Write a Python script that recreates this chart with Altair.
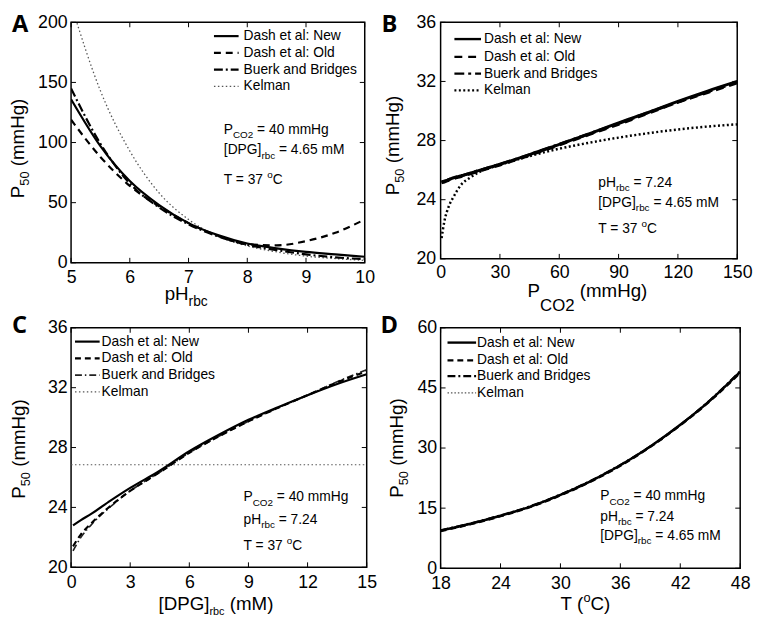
import altair as alt
import pandas as pd

FONT = "Liberation Sans"
LETTER_FONT = "Open Sans"
MODELS = ["Dash et al: New", "Dash et al: Old", "Buerk and Bridges", "Kelman"]

# ---------------- Panel A : P50 vs pH_rbc ----------------
a_x = [5.0, 5.5, 6.0, 6.5, 7.0, 7.5, 8.0, 8.5, 9.0, 9.5, 10.0]
a_new = [136, 97, 68, 48, 33, 23, 16, 12, 9, 7, 5]
a_old = [119, 88, 64, 47, 33, 22.5, 15.5, 14.5, 18, 25, 36]
a_buerk = [145, 99, 66, 46, 32, 22, 15, 10.5, 7, 4.5, 3]
a_kelman = [215, 143, 93, 58, 36, 22, 14, 9, 5.5, 3.5, 2]
a_xticks = [5, 6, 7, 8, 9, 10]
a_yticks = [0, 50, 100, 150, 200]

# ---------------- Panel B : P50 vs PCO2 ----------------
b_x = [0.5, 2, 4, 7, 10, 15, 20, 30, 45, 60, 75, 90, 105, 120, 135, 150]
b_new = [25.2, 25.25, 25.35, 25.5, 25.6, 25.8, 26.0, 26.4, 27.05, 27.75, 28.45, 29.2, 29.9, 30.65, 31.35, 32.0]
b_old = [25.15, 25.2, 25.3, 25.45, 25.55, 25.75, 25.95, 26.35, 27.0, 27.7, 28.4, 29.1, 29.85, 30.6, 31.25, 31.9]
b_buerk = [25.2, 25.25, 25.35, 25.5, 25.6, 25.8, 26.0, 26.4, 27.05, 27.75, 28.45, 29.15, 29.9, 30.6, 31.3, 31.95]
b_kelman = [21.4, 22.6, 23.5, 24.3, 24.95, 25.5, 25.9, 26.35, 26.95, 27.45, 27.85, 28.2, 28.5, 28.75, 28.95, 29.1]
b_xticks = [0, 30, 60, 90, 120, 150]
b_yticks = [20, 24, 28, 32, 36]

# ---------------- Panel C : P50 vs [DPG]_rbc ----------------
c_x = [0.1, 0.5, 1, 2, 3, 4.5, 6, 7.5, 9, 10.5, 12, 13.5, 15]
c_new = [22.8, 23.15, 23.55, 24.45, 25.3, 26.45, 27.75, 28.85, 29.85, 30.7, 31.5, 32.25, 32.9]
c_old = [21.4, 22.2, 22.9, 24.1, 25.1, 26.35, 27.65, 28.75, 29.75, 30.65, 31.5, 32.35, 33.1]
c_buerk = [21.1, 22.0, 22.8, 24.05, 25.1, 26.35, 27.65, 28.75, 29.75, 30.65, 31.5, 32.4, 33.2]
c_kelman_x = [0, 15]
c_kelman = [26.85, 26.85]
c_xticks = [0, 3, 6, 9, 12, 15]
c_yticks = [20, 24, 28, 32, 36]

# ---------------- Panel D : P50 vs T ----------------
d_x = [18, 21, 24, 27, 30, 33, 36, 39, 42, 45, 48]
d_new = [9.4, 11.1, 13.1, 15.4, 18.3, 21.7, 25.7, 30.4, 35.8, 41.9, 49.0]
d_old = [9.3, 11.0, 13.0, 15.3, 18.2, 21.6, 25.6, 30.3, 35.7, 41.8, 48.8]
d_buerk = [9.5, 11.2, 13.2, 15.5, 18.4, 21.8, 25.8, 30.4, 35.8, 42.0, 49.2]
d_kelman = [9.4, 11.1, 13.1, 15.4, 18.3, 21.7, 25.7, 30.4, 35.8, 41.9, 49.0]
d_xticks = [18, 24, 30, 36, 42, 48]
d_yticks = [0, 15, 30, 45, 60]

# Arial / Liberation Sans advance widths (em)
CW = {' ': .278, '(': .333, ')': .333, '[': .278, ']': .278, '=': .584, '.': .278, ':': .278,
      'A': .667, 'B': .667, 'C': .722, 'D': .722, 'G': .778, 'H': .722, 'K': .667, 'M': .833,
      'N': .722, 'O': .778, 'P': .667, 'T': .611, 'a': .556, 'b': .556, 'c': .5, 'd': .556,
      'e': .556, 'g': .556, 'h': .556, 'k': .5, 'l': .222, 'm': .833, 'n': .556, 'o': .556,
      'p': .556, 'r': .333, 's': .5, 't': .278, 'u': .556, 'w': .722, 'i': .222}


def tw(s, size):
    return sum(CW.get(c, .556) for c in s) * size


def text_piece(txt, x, y, size, angle=0, weight="normal", font=FONT, color="black",
               align="left", baseline="alphabetic"):
    return alt.Chart(pd.DataFrame({"t": [txt]})).mark_text(
        font=font, fontSize=size, fontWeight=weight, color=color, align=align,
        baseline=baseline, angle=angle
    ).encode(text="t:N", x=alt.value(x), y=alt.value(y))


def rich(pieces, x, y, size, sub_size, sub_shift, sup_shift=6, rotate=False, center=False):
    sizes = [size if k == "n" else sub_size for _, k in pieces]
    total = sum(tw(t, s) for (t, _), s in zip(pieces, sizes))
    if center:
        if rotate:
            y = y + total / 2
        else:
            x = x - total / 2
    out = []
    off = 0.0
    for (txt, kind), fs in zip(pieces, sizes):
        lead = len(txt) - len(txt.lstrip(" "))
        off += tw(" " * lead, fs)
        t = txt.strip(" ")
        shift = 0 if kind == "n" else (sub_shift if kind == "sub" else -sup_shift)
        if rotate:
            out.append(text_piece(t, x + shift, y - off, fs, angle=270))
        else:
            out.append(text_piece(t, x + off, y + shift, fs))
        off += tw(txt.lstrip(" "), fs)
    return out


def panel(series, styles, xdom, ydom, xticks, yticks, W, H, xpad, ypad, extras, legend):
    xs = alt.Scale(domain=xdom, nice=False, zero=False)
    ys = alt.Scale(domain=ydom, nice=False, zero=False)
    xa = alt.Axis(values=xticks, title=None, labelPadding=xpad, format="d",
                  labelFontSize=18, ticks=False, domain=False, grid=False)
    ya = alt.Axis(values=yticks, title=None, labelPadding=ypad, format="d",
                  labelFontSize=18, ticks=False, domain=False, grid=False)
    layers = []
    for name in ["Kelman", "Buerk and Bridges", "Dash et al: Old", "Dash et al: New"]:
        xv, yv = series[name]
        df = pd.DataFrame({"x": xv, "y": yv, "model": name})
        dash, width, color = styles[name]
        mk = dict(clip=True, interpolate="monotone", strokeWidth=width, color=color)
        if dash:
            mk["strokeDash"] = dash
        layers.append(alt.Chart(df).mark_line(**mk).encode(
            x=alt.X("x:Q", scale=xs, axis=xa),
            y=alt.Y("y:Q", scale=ys, axis=ya),
            detail="model:N"))
    # inward ticks (MATLAB box style)
    tx = pd.DataFrame({"x": xticks})
    ty = pd.DataFrame({"y": yticks})
    for y0, y1 in [(H, H - 5), (0, 5)]:
        layers.append(alt.Chart(tx).mark_rule(color="black", strokeWidth=1).encode(
            x=alt.X("x:Q", scale=xs, axis=xa), y=alt.value(y0), y2=alt.value(y1)))
    for x0, x1 in [(0, 5), (W - 5, W)]:
        layers.append(alt.Chart(ty).mark_rule(color="black", strokeWidth=1).encode(
            y=alt.Y("y:Q", scale=ys, axis=ya), x=alt.value(x0), x2=alt.value(x1)))
    # legend (drawn like the MATLAB legend, no box)
    sx0, sx1, tx0, rows = legend
    for name, ry in zip(MODELS, rows):
        dash, width, color = styles[name]
        mk = dict(strokeWidth=min(width, 2.4), color=color)
        if dash:
            mk["strokeDash"] = dash
        layers.append(alt.Chart(pd.DataFrame({"m": [name]})).mark_rule(**mk).encode(
            x=alt.value(sx0), x2=alt.value(sx1), y=alt.value(ry)))
        layers.append(text_piece(name, tx0, ry, 14, baseline="middle"))
    layers.extend(extras)
    return alt.layer(*layers).properties(width=W, height=H)


def series_of(xv, new, old, buerk, kel, kel_x=None):
    return {"Dash et al: New": (xv, new), "Dash et al: Old": (xv, old),
            "Buerk and Bridges": (xv, buerk), "Kelman": (kel_x or xv, kel)}


def y_title(x, cy):
    return rich([("P", "n"), ("50", "sub"), (" (mmHg)", "n")], x, cy, 19, 13, 5,
                rotate=True, center=True)


def ann(lines, x, ys):
    out = []
    for pieces, y in zip(lines, ys):
        out += rich(pieces, x, y, 14, 10, 4.5, sup_shift=6)
    return out


PCO2_L = [("P", "n"), ("CO2", "sub"), (" = 40 mmHg", "n")]
DPG_L = [("[DPG]", "n"), ("rbc", "sub"), (" = 4.65 mM", "n")]
PH_L = [("pH", "n"), ("rbc", "sub"), (" = 7.24", "n")]
T_L = [("T = 37 ", "n"), ("o", "sup"), ("C", "n")]

LET_Y = 10

# ---- A
WA, HA = 298, 244
stA = {"Dash et al: New": (None, 2.2, "black"), "Dash et al: Old": ([7, 5], 2.2, "black"),
       "Buerk and Bridges": ([9, 3, 2, 3], 2.2, "black"), "Kelman": ([1.5, 2.5], 1.3, "#555")}
exA = ([text_piece("A", -60, LET_Y, 24, weight="bold", font=LETTER_FONT)]
       + y_title(-48, 128)
       + rich([("pH", "n"), ("rbc", "sub")], 95, 282, 19, 14, 6)
       + ann([PCO2_L, DPG_L, T_L], 155, [113, 134, 164]))
A = panel(series_of(a_x, a_new, a_old, a_buerk, a_kelman), stA, [5, 10], [0, 200],
          a_xticks, a_yticks, WA, HA, 6, 4, exA, (145, 170, 175, [14, 31, 48, 65]))

# ---- B
WB, HB = 301, 240
stB = {"Dash et al: New": (None, 3, "black"), "Dash et al: Old": ([8, 6], 3, "black"),
       "Buerk and Bridges": ([10, 4, 3, 4], 3, "black"), "Kelman": ([2, 2.5], 2.5, "black")}
exB = ([text_piece("B", -60, LET_Y, 24, weight="bold", font=LETTER_FONT)]
       + y_title(-42, 125)
       + rich([("P", "n"), ("CO2", "sub"), (" (mmHg)", "n")], 149, 279, 19, 17, 14,
              center=True)
       + ann([PH_L, DPG_L, T_L], 160, [167, 187, 214]))
B = panel(series_of(b_x, b_new, b_old, b_buerk, b_kelman), stB, [0, 150], [20, 36],
          b_xticks, b_yticks, WB, HB, 5, 5, exB, (14, 41, 44, [17, 35, 52, 69]))

# ---- C
WC, HC = 300, 243
stC = {"Dash et al: New": (None, 2.2, "black"), "Dash et al: Old": ([6, 4], 2.2, "black"),
       "Buerk and Bridges": ([7, 3, 1.5, 3], 1.6, "#222"), "Kelman": ([1.5, 2.5], 1.2, "#555")}
exC = ([text_piece("C", -60, 5, 24, weight="bold", font=LETTER_FONT)]
       + y_title(-47, 123)
       + rich([("[DPG]", "n"), ("rbc", "sub"), (" (mM)", "n")], 147, 286, 19, 11, 5,
              center=True)
       + ann([PCO2_L, PH_L, T_L], 175, [176, 199, 225]))
C = panel(series_of(c_x, c_new, c_old, c_buerk, c_kelman, c_kelman_x), stC, [0, 15], [20, 36],
          c_xticks, c_yticks, WC, HC, 7, 4, exC, (4, 29, 31, [14, 31, 48, 65]))

# ---- D
WD, HD = 304, 244
stD = {"Dash et al: New": (None, 2.5, "black"), "Dash et al: Old": ([6, 4], 2.5, "black"),
       "Buerk and Bridges": ([8, 3, 2, 3], 2.2, "black"), "Kelman": ([1.5, 2], 1.2, "#555")}
exD = ([text_piece("D", -61, 5, 24, weight="bold", font=LETTER_FONT)]
       + y_title(-38, 122)
       + rich([("T (", "n"), ("o", "sup"), ("C)", "n")], 147, 286, 19, 13, 0, sup_shift=8,
              center=True)
       + ann([PCO2_L, PH_L, DPG_L], 162, [175, 196, 215]))
D = panel(series_of(d_x, d_new, d_old, d_buerk, d_kelman), stD, [18, 48], [0, 60],
          d_xticks, d_yticks, WD, HD, 7, 4, exD, (7, 36, 37, [15, 33, 49, 66]))

chart = alt.concat(
    A, B, C, D, columns=2, spacing={"row": 66, "column": 75}, bounds="flush", align="none",
    padding=0, background="white"
).configure_view(
    stroke="black", strokeWidth=1.5
).configure_axis(
    labelFont=FONT, labelColor="black", tickSize=0, labelFlush=False, labelOverlap=False
)

chart.save("out.html", embed_options={"renderer": "svg", "actions": False})
